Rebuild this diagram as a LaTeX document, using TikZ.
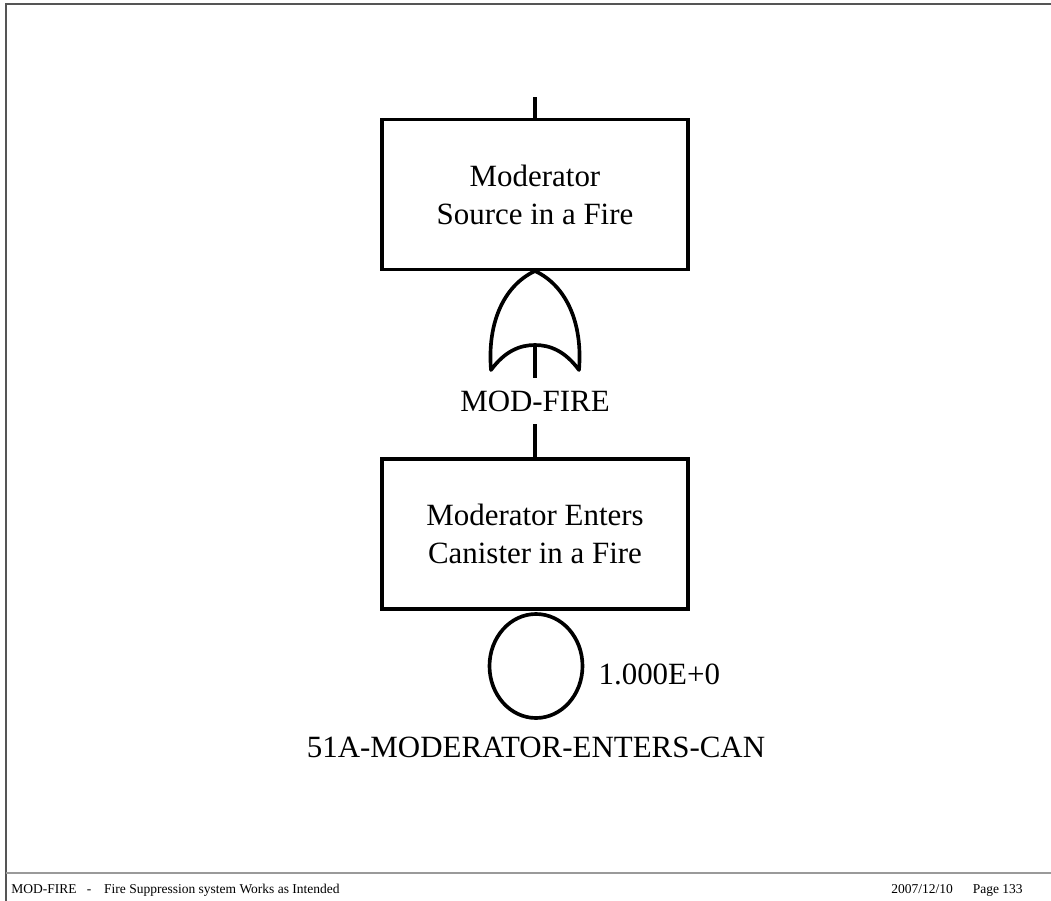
\documentclass[tikz,border=0pt]{standalone}
\usepackage{fontspec}
\setmainfont{Liberation Serif}
\usetikzlibrary{positioning, shapes.geometric, calc}
\definecolor{cFrame}{HTML}{555555}
\definecolor{cRule}{HTML}{9A9A9A}
\tikzset{
  eventbox/.style={
    draw=black, line width=2.6pt,
    minimum width=76.5mm,
    minimum height=37.5mm,
    inner sep=0pt,
    align=center,
    font=\fontsize{22}{27}\selectfont
  },
  basicevent/.style={
    ellipse, draw=black, line width=2.6pt,
    minimum width=23.25mm,
    minimum height=26mm,
    inner sep=0pt
  },
  gatelabel/.style={
    font=\fontsize{22}{27}\selectfont,
    inner xsep=0pt, inner ysep=3.2mm
  },
  eventlabel/.style={
    font=\fontsize{22}{27}\selectfont,
    inner sep=0pt
  },
  link/.style={
    line width=2.6pt, draw=black
  },
  footer/.style={
    font=\fontsize{9.6}{12}\selectfont,
    inner sep=0pt
  },
  orgate/.pic={
    \draw[line width=2.6pt, line join=round]
      (-44,99) .. controls (-48,50) and (-30,14) .. (0,0)
      .. controls (30,14) and (48,50) .. (44,99)
      .. controls (30,80) and (15,74) .. (0,74)
      .. controls (-15,74) and (-30,80) .. (-44,99) -- cycle;
    \coordinate (-in) at (0,74);
    \coordinate (-out) at (0,0);
  }
}

\begin{document}
\begin{tikzpicture}[x=0.25mm, y=-0.25mm]
  \useasboundingbox (0,0) rectangle (1051,901);

  % page frame
  \draw[cFrame, line width=0.8pt] (6,901) -- (6,4) -- (1051,4);
  \draw[cRule, line width=1.2pt] (6,873) -- (1051,873);

  % top event and gate
  \coordinate (top) at (535,97);
  \node[eventbox] (src) at (535,194.5) {Moderator\\Source in a Fire};
  \pic (g) at (535,271) {orgate};
  \node[gatelabel] (modfire) at (535,401) {MOD-FIRE};

  % input event
  \node[eventbox] (can) at (535,534) {Moderator Enters\\Canister in a Fire};
  \node[basicevent] (basic) at (536,666) {};
  \node[eventlabel, right=3.5mm of basic, yshift=-2mm] (prob) {1.000E+0};
  \node[eventlabel, below=4.3mm of basic] (bname) {51A-MODERATOR-ENTERS-CAN};

  \draw[link] (top) -- (src.north);
  \draw[link] (g-in) -- (modfire.north);
  \draw[link] (modfire.south) -- (can.north);

  % footer
  \node[footer, anchor=base west] (foot) at (11,893)
    {MOD-FIRE\hspace*{2.6mm}-\hspace*{3.2mm}Fire Suppression system Works as Intended};
  \node[footer, anchor=base east] (date) at (1023,893)
    {2007/12/10\hspace*{5mm}Page 133};
\end{tikzpicture}
\end{document}
